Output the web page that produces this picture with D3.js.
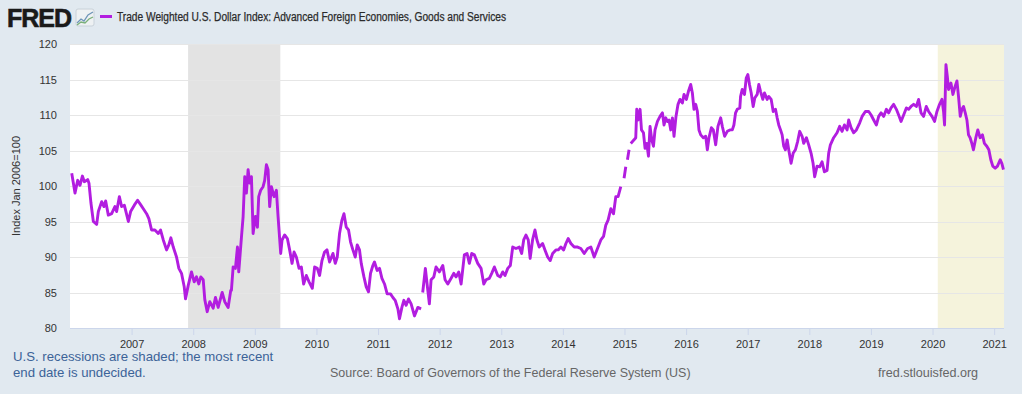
<!DOCTYPE html>
<html>
<head>
<meta charset="utf-8">
<title>FRED - Trade Weighted U.S. Dollar Index</title>
<script src="https://cdn.jsdelivr.net/npm/d3@7"></script>
<style>
body{margin:0;background:#e1e9f0;}
svg{display:block;font-family:"Liberation Sans",Arial,sans-serif;}
</style>
</head>
<body>
<div id="chart"></div>
<script>
var w = 1022, h = 394;
var margin = {top: 44, right: 18, bottom: 66, left: 70};

// decimal years and index values
var dates = [
2006.028,2006.055,2006.081,2006.125,2006.162,2006.201,2006.233,2006.287,2006.308,2006.340,
2006.379,2006.433,2006.460,2006.514,2006.551,2006.579,2006.622,2006.676,2006.729,2006.757,
2006.801,2006.838,2006.882,2006.908,2006.947,2006.984,2007.044,2007.097,2007.151,2007.190,
2007.243,2007.280,2007.324,2007.378,2007.433,2007.470,2007.514,2007.567,2007.604,2007.637,
2007.676,2007.729,2007.767,2007.810,2007.854,2007.875,2007.919,2007.972,2008.016,2008.053,
2008.091,2008.123,2008.162,2008.188,2008.227,2008.269,2008.324,2008.361,2008.405,2008.470,
2008.512,2008.567,2008.609,2008.620,2008.648,2008.685,2008.718,2008.739,2008.783,2008.810,
2008.836,2008.863,2008.891,2008.917,2008.945,2008.972,2009.009,2009.042,2009.063,2009.095,
2009.134,2009.160,2009.188,2009.215,2009.241,2009.269,2009.312,2009.350,2009.377,2009.420,
2009.442,2009.484,2009.528,2009.565,2009.604,2009.637,2009.674,2009.718,2009.755,2009.792,
2009.836,2009.880,2009.933,2009.971,2010.014,2010.051,2010.090,2010.132,2010.171,2010.213,
2010.268,2010.306,2010.338,2010.375,2010.414,2010.447,2010.484,2010.521,2010.554,2010.592,
2010.630,2010.662,2010.699,2010.727,2010.771,2010.808,2010.845,2010.878,2010.916,2010.942,
2010.986,2011.024,2011.063,2011.105,2011.148,2011.202,2011.241,2011.278,2011.322,2011.348,
2011.387,2011.419,2011.456,2011.494,2011.537,2011.591,2011.646,2011.699,2011.712,2011.725,
2011.768,2011.796,2011.833,2011.861,2011.905,2011.942,2011.996,2012.051,2012.088,2012.132,
2012.186,2012.229,2012.267,2012.310,2012.348,2012.401,2012.445,2012.482,2012.521,2012.563,
2012.618,2012.672,2012.716,2012.753,2012.806,2012.845,2012.888,2012.943,2012.985,2013.024,
2013.061,2013.105,2013.147,2013.186,2013.239,2013.293,2013.331,2013.364,2013.401,2013.438,
2013.469,2013.508,2013.547,2013.579,2013.616,2013.671,2013.709,2013.753,2013.795,2013.834,
2013.887,2013.924,2013.968,2014.012,2014.049,2014.086,2014.130,2014.184,2014.239,2014.292,
2014.346,2014.401,2014.454,2014.508,2014.562,2014.616,2014.660,2014.697,2014.734,2014.778,
2014.822,2014.859,2014.896,2014.940,2014.965,2014.993,2015.021,2015.035,2015.048,2015.074,
2015.088,2015.102,2015.155,2015.183,2015.199,2015.220,2015.253,2015.276,2015.308,2015.334,
2015.362,2015.389,2015.415,2015.443,2015.470,2015.496,2015.535,2015.577,2015.616,2015.642,
2015.670,2015.697,2015.723,2015.751,2015.778,2015.804,2015.836,2015.869,2015.901,2015.940,
2015.966,2016.005,2016.037,2016.075,2016.102,2016.128,2016.156,2016.183,2016.209,2016.237,
2016.280,2016.318,2016.345,2016.371,2016.410,2016.442,2016.480,2016.517,2016.561,2016.588,
2016.625,2016.669,2016.711,2016.750,2016.776,2016.803,2016.830,2016.872,2016.884,2016.911,
2016.948,2016.976,2017.002,2017.029,2017.057,2017.089,2017.115,2017.154,2017.180,2017.209,
2017.245,2017.273,2017.316,2017.342,2017.381,2017.414,2017.451,2017.478,2017.504,2017.533,
2017.559,2017.585,2017.612,2017.640,2017.666,2017.704,2017.737,2017.774,2017.811,2017.844,
2017.883,2017.909,2017.953,2017.990,2018.029,2018.061,2018.087,2018.126,2018.168,2018.207,
2018.245,2018.288,2018.314,2018.342,2018.395,2018.450,2018.493,2018.532,2018.570,2018.613,
2018.639,2018.678,2018.720,2018.764,2018.818,2018.857,2018.910,2018.964,2019.003,2019.045,
2019.089,2019.126,2019.165,2019.207,2019.251,2019.288,2019.327,2019.369,2019.413,2019.450,
2019.489,2019.531,2019.575,2019.612,2019.651,2019.693,2019.737,2019.774,2019.813,2019.855,
2019.899,2019.936,2019.991,2020.033,2020.072,2020.114,2020.153,2020.179,2020.195,2020.218,
2020.239,2020.260,2020.299,2020.331,2020.369,2020.396,2020.422,2020.450,2020.477,2020.503,
2020.531,2020.558,2020.584,2020.610,2020.638,2020.664,2020.703,2020.735,2020.773,2020.810,
2020.842,2020.881,2020.914,2020.946,2020.978,2021.017,2021.054,2021.098,2021.125,2021.151
];
var values = [
101.8,100.4,99.0,100.8,100.1,101.4,100.6,100.9,100.4,97.6,
95.0,94.6,96.4,97.8,97.1,97.9,95.9,96.1,97.1,96.4,
98.5,97.1,97.3,96.4,95.0,96.4,97.3,98.0,97.3,96.8,
96.1,95.4,93.8,93.8,93.3,93.8,92.4,91.0,91.7,92.7,
91.4,90.0,88.4,87.7,85.8,84.1,86.0,87.9,86.5,87.2,
86.2,87.2,86.8,84.0,82.3,83.7,82.8,84.3,82.9,85.0,
83.7,82.9,85.3,85.3,88.6,88.4,91.4,87.9,92.8,95.7,
101.3,99.0,102.3,100.4,101.3,93.3,95.7,94.2,98.5,99.4,
99.9,100.8,103.0,102.3,97.1,99.9,98.5,99.4,95.7,90.5,
92.4,93.1,92.6,91.0,89.1,90.7,90.0,88.4,88.6,86.2,
87.4,86.5,85.6,88.6,88.4,87.4,89.5,90.7,91.0,89.3,
90.5,89.1,90.0,93.3,95.2,96.1,94.2,93.8,92.1,91.0,
90.0,91.7,91.0,89.1,87.2,85.8,85.1,87.7,88.8,89.3,
88.1,88.4,87.0,86.2,84.8,84.8,84.3,83.9,82.7,81.3,
82.9,83.9,83.2,84.1,83.4,81.7,82.9,82.7,null,85.0,
88.4,86.2,83.4,86.8,87.2,88.6,87.9,88.8,86.8,86.2,
87.0,87.7,87.2,87.9,86.2,90.3,90.5,89.1,90.5,90.3,
89.1,88.4,86.2,86.8,87.0,87.7,88.6,87.4,87.2,87.9,
87.4,88.4,88.8,91.4,91.2,91.4,90.5,92.4,93.1,92.4,
89.8,92.4,93.8,92.4,91.4,91.9,91.0,90.0,89.5,90.5,
91.0,91.0,91.4,91.0,91.9,92.6,91.9,91.4,91.4,91.2,
90.5,91.2,91.4,90.0,91.2,92.4,92.9,94.5,95.2,96.8,
96.1,98.5,98.5,99.9,null,101.1,102.7,null,103.7,105.1,
null,106.0,106.5,106.8,110.8,109.3,110.8,107.9,107.5,105.3,
106.0,104.2,108.4,106.5,105.6,107.9,109.1,109.8,110.3,108.6,
109.6,109.1,109.3,107.9,109.6,107.0,109.8,111.5,112.2,111.7,
112.9,112.2,113.3,114.3,113.1,110.8,111.5,110.5,107.9,107.2,
106.8,107.0,105.1,106.8,108.2,107.9,105.8,108.4,109.6,108.4,
107.0,107.7,107.9,107.9,108.6,110.3,110.8,111.0,112.6,113.6,
112.9,115.2,115.7,114.3,113.1,111.2,112.4,112.9,114.3,113.3,
112.2,113.1,112.2,112.6,112.2,110.5,110.8,109.6,108.6,107.9,
107.2,105.6,105.1,106.5,105.1,103.2,104.6,105.1,106.3,107.7,
107.0,106.0,106.8,105.8,104.6,103.2,101.3,102.8,102.7,103.4,
102.0,102.2,104.6,105.8,106.8,107.5,108.4,107.7,108.6,107.9,
109.3,108.2,107.5,107.9,108.9,109.8,110.5,110.5,110.0,109.3,
108.6,109.8,110.3,109.8,110.8,110.3,111.0,111.5,110.8,110.0,
109.1,110.0,111.0,110.8,111.2,111.5,111.2,112.2,110.3,109.8,
111.2,110.5,109.8,109.1,110.5,111.5,112.2,110.5,108.6,117.1,
115.5,113.6,114.5,112.9,114.1,114.8,112.6,109.8,110.8,111.2,
110.3,109.3,107.2,106.8,106.0,105.1,106.8,107.9,106.8,107.2,
106.0,105.6,105.1,103.7,102.8,102.5,102.8,103.7,103.2,102.3
];
var recessions = [[2007.917, 2009.414], [2020.085, 2021.16]];
var yTicks = [80, 85, 90, 95, 100, 105, 110, 115, 120];
var xTicks = d3.range(2007, 2022);

var svg = d3.select('#chart').append('svg')
  .attr('width', w)
  .attr('height', h);

var x = d3.scaleLinear()
  .domain([2006.0, 2021.16])
  .range([margin.left, w - margin.right]);
var y = d3.scaleLinear()
  .domain([80, 120])
  .range([h - margin.bottom, margin.top]);

// plot background
svg.append('rect')
  .attr('x', margin.left)
  .attr('y', margin.top)
  .attr('width', w - margin.left - margin.right)
  .attr('height', h - margin.top - margin.bottom)
  .attr('fill', '#ffffff');

// recession bars
svg.selectAll('rect.rec')
  .data(recessions)
  .enter()
  .append('rect')
  .attr('class', 'rec')
  .attr('x', function(d){ return x(d[0]); })
  .attr('y', margin.top)
  .attr('width', function(d){ return Math.min(x(d[1]), w - margin.right) - x(d[0]); })
  .attr('height', h - margin.top - margin.bottom)
  .attr('fill', function(d, i){ return i == 0 ? '#e3e3e3' : '#f5f3dc'; });

// grid
svg.selectAll('line.grid')
  .data(yTicks.slice(1))
  .enter()
  .append('line')
  .attr('class', 'grid')
  .attr('x1', margin.left)
  .attr('x2', w - margin.right)
  .attr('y1', function(d){ return Math.round(y(d)) + 0.5; })
  .attr('y2', function(d){ return Math.round(y(d)) + 0.5; })
  .attr('stroke', '#e6e6e6')
  .attr('stroke-width', 1);

// y axis labels
var yAxis = d3.axisLeft(y).tickValues(yTicks).tickSize(0).tickPadding(13);
svg.append('g')
  .attr('transform', 'translate(' + margin.left + ',0)')
  .call(yAxis)
  .call(function(g){
    g.select('.domain').remove();
    g.selectAll('text').attr('font-size', 11).attr('fill', '#333333')
      .attr('font-family', '"Liberation Sans",Arial,sans-serif');
  });

// x axis
var xAxis = d3.axisBottom(x).tickValues(xTicks).tickFormat(d3.format('d')).tickSize(7).tickPadding(5);
svg.append('g')
  .attr('transform', 'translate(0,' + (h - margin.bottom) + ')')
  .call(xAxis)
  .call(function(g){
    g.select('.domain').attr('stroke', '#ccd6eb').attr('d', 'M' + margin.left + ',0.5H' + (w - margin.right));
    g.selectAll('.tick line').attr('stroke', '#ccd6eb');
    g.selectAll('text').attr('font-size', 11).attr('fill', '#333333')
      .attr('font-family', '"Liberation Sans",Arial,sans-serif');
  });

// series line
var data = dates.map(function(d, i){ return {t: d, v: values[i]}; });
var line = d3.line()
  .defined(function(d){ return d.v !== null; })
  .x(function(d){ return x(d.t); })
  .y(function(d){ return y(d.v); });
svg.append('path')
  .datum(data)
  .attr('d', line)
  .attr('fill', 'none')
  .attr('stroke', '#b21de0')
  .attr('stroke-width', 2.9)
  .attr('stroke-linejoin', 'round');

// y axis title
svg.append('text')
  .attr('transform', 'translate(20,' + y(100) + ') rotate(-90)')
  .attr('text-anchor', 'middle')
  .attr('font-size', 11)
  .attr('fill', '#333333')
  .text('Index Jan 2006=100');

// header: logo + legend
svg.append('text')
  .attr('x', 7)
  .attr('y', 27)
  .attr('font-size', 25)
  .attr('font-weight', 'bold')
  .attr('font-family', '"Liberation Sans",Arial,sans-serif')
  .attr('fill', '#1a1a1a')
  .attr('stroke', '#1a1a1a')
  .attr('stroke-width', 0.6)
  .attr('letter-spacing', -1)
  .text('FRED');
var icon = svg.append('g').attr('transform', 'translate(76,9)');
icon.append('rect').attr('width', 18).attr('height', 17).attr('rx', 2).attr('fill', '#eef1f3').attr('stroke', '#c9d2da');
icon.append('path').attr('d', 'M1,14 L5,10 L8,12 L12,6 L17,3').attr('fill', 'none').attr('stroke', '#6f95b8').attr('stroke-width', 1.3);
icon.append('path').attr('d', 'M1,16 L5,13 L9,14 L13,10 L17,8').attr('fill', 'none').attr('stroke', '#7ab07a').attr('stroke-width', 1.3);

svg.append('line')
  .attr('x1', 100).attr('x2', 112)
  .attr('y1', 16.5).attr('y2', 16.5)
  .attr('stroke', '#b21de0')
  .attr('stroke-width', 3);
svg.append('text')
  .attr('x', 117)
  .attr('y', 21)
  .attr('font-size', 12)
  .attr('fill', '#2b2b2b')
  .attr('stroke', '#2b2b2b')
  .attr('stroke-width', 0.25)
  .attr('textLength', 389)
  .attr('lengthAdjust', 'spacingAndGlyphs')
  .text('Trade Weighted U.S. Dollar Index: Advanced Foreign Economies, Goods and Services');

// footer
svg.append('text')
  .attr('x', 13).attr('y', 361)
  .attr('font-size', 13.2)
  .attr('fill', '#3c6398')
  .text('U.S. recessions are shaded; the most recent');
svg.append('text')
  .attr('x', 13).attr('y', 377)
  .attr('font-size', 13.2)
  .attr('fill', '#3c6398')
  .text('end date is undecided.');
svg.append('text')
  .attr('x', 330).attr('y', 377)
  .attr('font-size', 12.5)
  .attr('fill', '#666666')
  .text('Source: Board of Governors of the Federal Reserve System (US)');
svg.append('text')
  .attr('x', 878).attr('y', 377)
  .attr('font-size', 12.6)
  .attr('fill', '#666666')
  .text('fred.stlouisfed.org');
</script>
</body>
</html>
